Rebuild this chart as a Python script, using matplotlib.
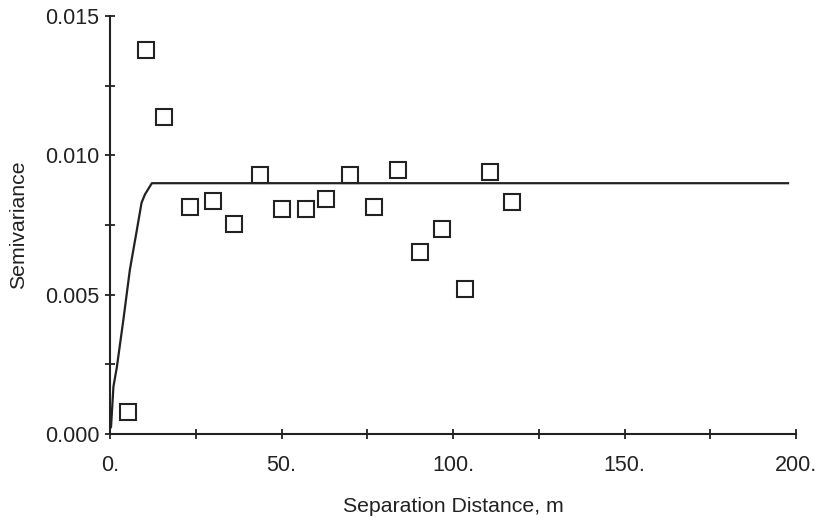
import matplotlib
matplotlib.use("Agg")
import matplotlib.pyplot as plt
from matplotlib.ticker import FixedLocator, FixedFormatter

# Experimental semivariogram points
lag_distance = [5.2, 10.5, 15.7, 23.3, 30.0, 36.2, 43.7, 50.1, 57.1, 63.0,
                70.0, 77.0, 84.0, 90.4, 96.8, 103.5, 110.8, 117.2]
semivariance = [0.00079, 0.01378, 0.01138, 0.00815, 0.00836, 0.00754, 0.00929,
                0.00807, 0.00807, 0.00843, 0.00929, 0.00815, 0.00947, 0.00653,
                0.00736, 0.00520, 0.00940, 0.00833]

# Fitted model curve
model_x = [0.0, 0.3, 1.0, 2.0, 3.9, 5.8, 7.8, 9.2, 10.2, 12.2, 198.0]
model_y = [0.0002, 0.00025, 0.0017, 0.0024, 0.0041, 0.0059, 0.0073, 0.0083,
           0.0086, 0.0090, 0.0090]

x_ticks = [0, 50, 100, 150, 200]
x_tick_labels = ["0.", "50.", "100.", "150.", "200."]
x_minor = [25, 75, 125, 175]
y_ticks = [0.0, 0.005, 0.010, 0.015]
y_tick_labels = ["0.000", "0.005", "0.010", "0.015"]
y_minor = [0.0025, 0.0075, 0.0125]

plt.rcParams['font.family'] = ['Liberation Sans', 'DejaVu Sans']

fig = plt.figure(figsize=(8.2, 5.22), dpi=100)
ax = fig.add_axes([110/820, 1-434/522, (796-110)/820, (434-16)/522])

ink = '#222222'
ax.plot(model_x, model_y, color=ink, lw=1.6, solid_capstyle='butt', zorder=2)
ax.plot(lag_distance, semivariance, linestyle='none', marker='s', ms=11.5,
        mfc='none', mec=ink, mew=1.5, zorder=3)

ax.set_xlim(0, 200)
ax.set_ylim(0, 0.015)

for s in ['top', 'right']:
    ax.spines[s].set_visible(False)
for s in ['left', 'bottom']:
    ax.spines[s].set_linewidth(1.5)
    ax.spines[s].set_color(ink)

ax.xaxis.set_major_locator(FixedLocator(x_ticks))
ax.xaxis.set_major_formatter(FixedFormatter(x_tick_labels))
ax.xaxis.set_minor_locator(FixedLocator(x_minor))
ax.yaxis.set_major_locator(FixedLocator(y_ticks))
ax.yaxis.set_major_formatter(FixedFormatter(y_tick_labels))
ax.yaxis.set_minor_locator(FixedLocator(y_minor))

ax.tick_params(which='both', direction='inout', length=7.5, width=1.3, color=ink)
ax.tick_params(axis='x', which='major', pad=11.5, labelsize=15.5, labelcolor=ink)
ax.tick_params(axis='y', which='major', pad=4, labelsize=15.5, labelcolor=ink)

ax.set_xlabel("Separation Distance, m", fontsize=15.3, color=ink)
ax.set_ylabel("Semivariance", fontsize=15.3, color=ink)
ax.xaxis.set_label_coords(0.5, -0.15)
ax.yaxis.set_label_coords(-0.12, 0.5)

fig.savefig("out.png", dpi=100)
